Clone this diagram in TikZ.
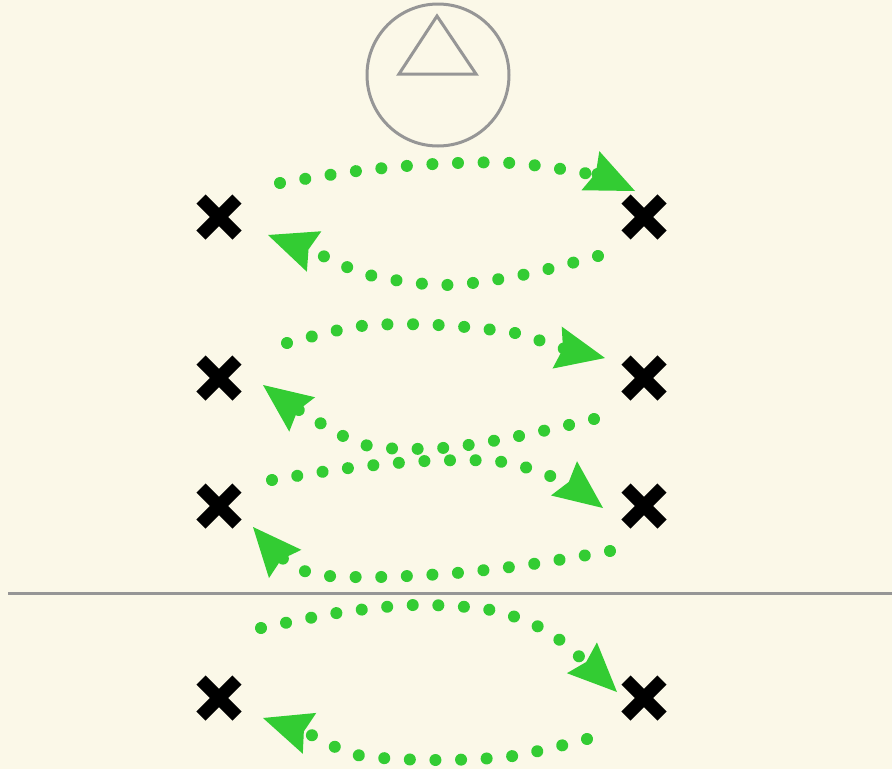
\documentclass[tikz,border=0pt]{standalone}
\usetikzlibrary{arrows.meta}
\definecolor{paper}{RGB}{251,248,232}
\definecolor{drillgreen}{RGB}{51,204,51}
\definecolor{markgray}{RGB}{150,150,150}
\begin{document}
\begin{tikzpicture}[x=1pt,y=-1pt,
  player/.style={inner sep=0pt, outer sep=0pt, minimum size=0pt},
  xmark/.style={black, line width=13pt},
  runline/.style={drillgreen, line width=12pt, line cap=round,
    dash pattern=on 0.01pt off 25.6pt,
    -{Stealth[length=49pt,width=43pt,inset=6pt,line width=0pt]}},
  gear/.style={markgray, line width=3pt},
]
% canvas
\fill[paper] (0,0) rectangle (892,769);
\useasboundingbox (0,0) rectangle (892,769);

% cone marker: circle with a triangle
\node[gear, draw, circle, minimum size=142pt, inner sep=0pt] (ring) at (438,75) {};
\draw[gear, line join=miter] (437,16) -- (476,74) -- (399,74) -- cycle;

% dividing line
\coordinate (lineL) at (8,593);
\coordinate (lineR) at (892,593);
\draw[gear] (lineL) -- (lineR);

% players
\node[player] (L1) at (219,217) {};
\node[player] (R1) at (644,217) {};
\node[player] (L2) at (219,378) {};
\node[player] (R2) at (644,378) {};
\node[player] (L3) at (219,506) {};
\node[player] (R3) at (644,506) {};
\node[player] (L4) at (219,698) {};
\node[player] (R4) at (644,698) {};
\foreach \p in {L1,R1,L2,R2,L3,R3,L4,R4}
  \draw[xmark] ([shift={(-18,-18)}]\p.center) -- ([shift={(18,18)}]\p.center)
               ([shift={(-18,18)}]\p.center) -- ([shift={(18,-18)}]\p.center);

% run end points
\coordinate (a1s) at (280,183); \coordinate (a1e) at (635,191);
\coordinate (a2s) at (598,256); \coordinate (a2e) at (268,235);
\coordinate (b1s) at (287,343); \coordinate (b1e) at (605,358);
\coordinate (b2s) at (594,419); \coordinate (b2e) at (263,385);
\coordinate (c1s) at (272,480); \coordinate (c1e) at (603,508);
\coordinate (c2s) at (610,551); \coordinate (c2e) at (253,527);
\coordinate (d1s) at (261,628); \coordinate (d1e) at (617,692);
\coordinate (d2s) at (587,739); \coordinate (d2e) at (263,718);

% runs
\draw[runline] plot[smooth] coordinates {(a1s) (357,171) (434,164) (511,163) (589,174) (a1e)};
\draw[runline] plot[smooth] coordinates {(a2s) (522,275) (445,285) (369,275) (314,252) (a2e)};
\draw[runline] plot[smooth] coordinates {(b1s) (361,326) (438,325) (515,333) (558,347) (b1e)};
\draw[runline] plot[smooth] coordinates {(b2s) (519,436) (442,448) (365,445) (302,412) (b2e)};
\draw[runline] plot[smooth] coordinates {(c1s) (349,468) (426,461) (503,462) (562,481) (c1e)};
\draw[runline] plot[smooth] coordinates {(c2s) (533,564) (456,573) (379,577) (320,575) (287,562) (c2e)};
\draw[runline] plot[smooth] coordinates {(d1s) (337,613) (414,605) (491,610) (545,630) (582,659) (d1e)};
\draw[runline] plot[smooth] coordinates {(d2s) (513,756) (435,760) (357,755) (309,734) (d2e)};
\end{tikzpicture}
\end{document}
